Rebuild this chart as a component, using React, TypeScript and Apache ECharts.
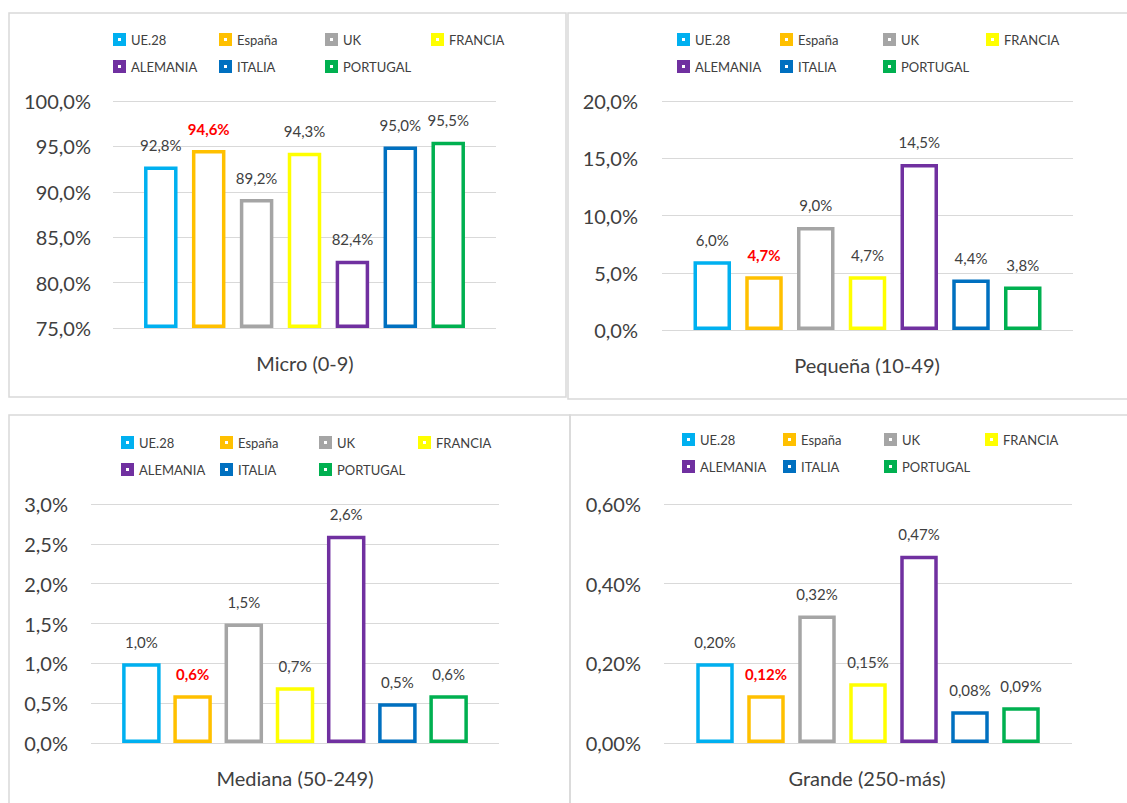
import React, { useEffect, useRef } from "react";
import * as echarts from "echarts";

const COUNTRIES = ["UE.28", "España", "UK", "FRANCIA", "ALEMANIA", "ITALIA", "PORTUGAL"];
const COLORS = ["#00b0f0", "#ffc000", "#a5a5a5", "#ffff00", "#7030a0", "#0070c0", "#00b050"];

const microValues = [92.8, 94.6, 89.2, 94.3, 82.4, 95.0, 95.5];
const pequenaValues = [6.0, 4.7, 9.0, 4.7, 14.5, 4.4, 3.8];
const medianaValues = [1.0, 0.6, 1.5, 0.7, 2.6, 0.5, 0.6];
const grandeValues = [0.2, 0.12, 0.32, 0.15, 0.47, 0.08, 0.09];

const PANEL_TITLES = ["Micro (0-9)", "Pequeña (10-49)", "Mediana (50-249)", "Grande (250-más)"];
const AXIS_MIN = [75, 0, 0, 0];
const AXIS_MAX = [100, 20, 3, 0.6];
const AXIS_STEP = [5, 5, 0.5, 0.2];
const DECIMALS = [1, 1, 1, 2];

const PANEL_VALUES = [microValues, pequenaValues, medianaValues, grandeValues];

// layout (pixels)
const GRIDS = [
  { left: 113, top: 101, width: 383, height: 227 },
  { left: 662, top: 101, width: 411, height: 229 },
  { left: 91, top: 504, width: 408, height: 239 },
  { left: 664, top: 504, width: 408, height: 239 },
];
const LABEL_MARGIN = [22, 24, 23, 23];
const BAR_WIDTH = [33.5, 37.5, 38.5, 37.5];
const BAR_GAP = ["43%", "38%", "33%", "36%"];
const LEGEND_POS = [
  { left: 113, top: 31, step: 106 },
  { left: 677, top: 31, step: 103 },
  { left: 121, top: 434, step: 99 },
  { left: 682, top: 431, step: 101 },
];
const TITLE_POS = [
  [305, 363],
  [867, 365],
  [295, 778],
  [867, 778],
];
const BORDERS = [
  { x: 9, y: 13, width: 557, height: 384 },
  { x: 568, y: 13, width: 580, height: 386 },
  { x: 9, y: 415, width: 561, height: 420 },
  { x: 570, y: 415, width: 580, height: 420 },
];

const FONT = "Lato";
const TEXT_COLOR = "#404040";

const fmt = (v: number, d: number) => v.toFixed(d).replace(".", ",") + "%";

export default function App() {
  const ref = useRef<HTMLDivElement>(null);
  useEffect(() => {
    if (!ref.current) return;
    const chart = echarts.init(ref.current, null, { renderer: "svg" });

    const series: any[] = [];
    PANEL_VALUES.forEach((vals, p) => {
      vals.forEach((v, i) => {
        const isSpain = i === 1;
        series.push({
          type: "bar",
          name: COUNTRIES[i],
          xAxisIndex: p,
          yAxisIndex: p,
          data: [v - AXIS_MIN[p]],
          barWidth: BAR_WIDTH[p],
          barGap: BAR_GAP[p],
          itemStyle: { color: "#ffffff", borderColor: COLORS[i], borderWidth: 3.5 },
          label: {
            show: true,
            position: "top",
            distance: 14,
            formatter: () => fmt(v, DECIMALS[p]),
            fontFamily: FONT,
            fontSize: 15,
            color: isSpain ? "#ff0000" : "#404040",
            fontWeight: isSpain ? "bold" : "normal",
          },
        });
      });
    });

    const legends = LEGEND_POS.map((lp) => ({
      left: lp.left,
      top: lp.top,
      width: lp.step * 4 - 5,
      orient: "horizontal",
      itemWidth: 13,
      itemHeight: 13,
      itemGap: 10,
      padding: 0,
      selectedMode: false,
      icon: "path://M0,0H13V13H0Z M5,5V8H8V5Z",
      textStyle: {
        fontFamily: FONT,
        fontSize: 13,
        color: TEXT_COLOR,
        width: lp.step - 28,
        lineHeight: 17,
      },
      data: COUNTRIES.map((c, i) => ({
        name: c,
        itemStyle: { color: COLORS[i], borderWidth: 0 },
      })),
    }));

    const graphics: any[] = [];
    BORDERS.forEach((b) => {
      graphics.push({
        type: "rect",
        shape: { x: b.x, y: b.y, width: b.width, height: b.height },
        style: { fill: "none", stroke: "#d9d9d9", lineWidth: 1.5 },
        silent: true,
      });
    });
    PANEL_TITLES.forEach((t, p) => {
      graphics.push({
        type: "text",
        x: TITLE_POS[p][0],
        y: TITLE_POS[p][1],
        style: {
          text: t,
          fontFamily: FONT,
          fontSize: 20,
          fill: TEXT_COLOR,
          textAlign: "center",
          textVerticalAlign: "middle",
        },
        silent: true,
      });
    });

    chart.setOption({
      animation: false,
      backgroundColor: "#ffffff",
      grid: GRIDS.map((g) => ({ ...g, containLabel: false })),
      xAxis: GRIDS.map((_, p) => ({
        type: "category",
        gridIndex: p,
        data: [PANEL_TITLES[p]],
        axisLine: { show: false },
        axisTick: { show: false },
        axisLabel: { show: false },
      })),
      yAxis: GRIDS.map((_, p) => ({
        type: "value",
        gridIndex: p,
        min: 0,
        max: AXIS_MAX[p] - AXIS_MIN[p],
        interval: AXIS_STEP[p],
        axisLine: { show: false },
        axisTick: { show: false },
        splitLine: { lineStyle: { color: "#d9d9d9", width: 1 } },
        axisLabel: {
          margin: LABEL_MARGIN[p],
          fontFamily: FONT,
          fontSize: 20,
          color: TEXT_COLOR,
          formatter: (val: number) => fmt(val + AXIS_MIN[p], DECIMALS[p]),
        },
      })),
      legend: legends,
      series,
      graphic: graphics,
    });
    return () => chart.dispose();
  }, []);

  return (
    <div
      ref={ref}
      style={{ position: "absolute", left: 0, top: 0, width: 1127, height: 803 }}
    />
  );
}
